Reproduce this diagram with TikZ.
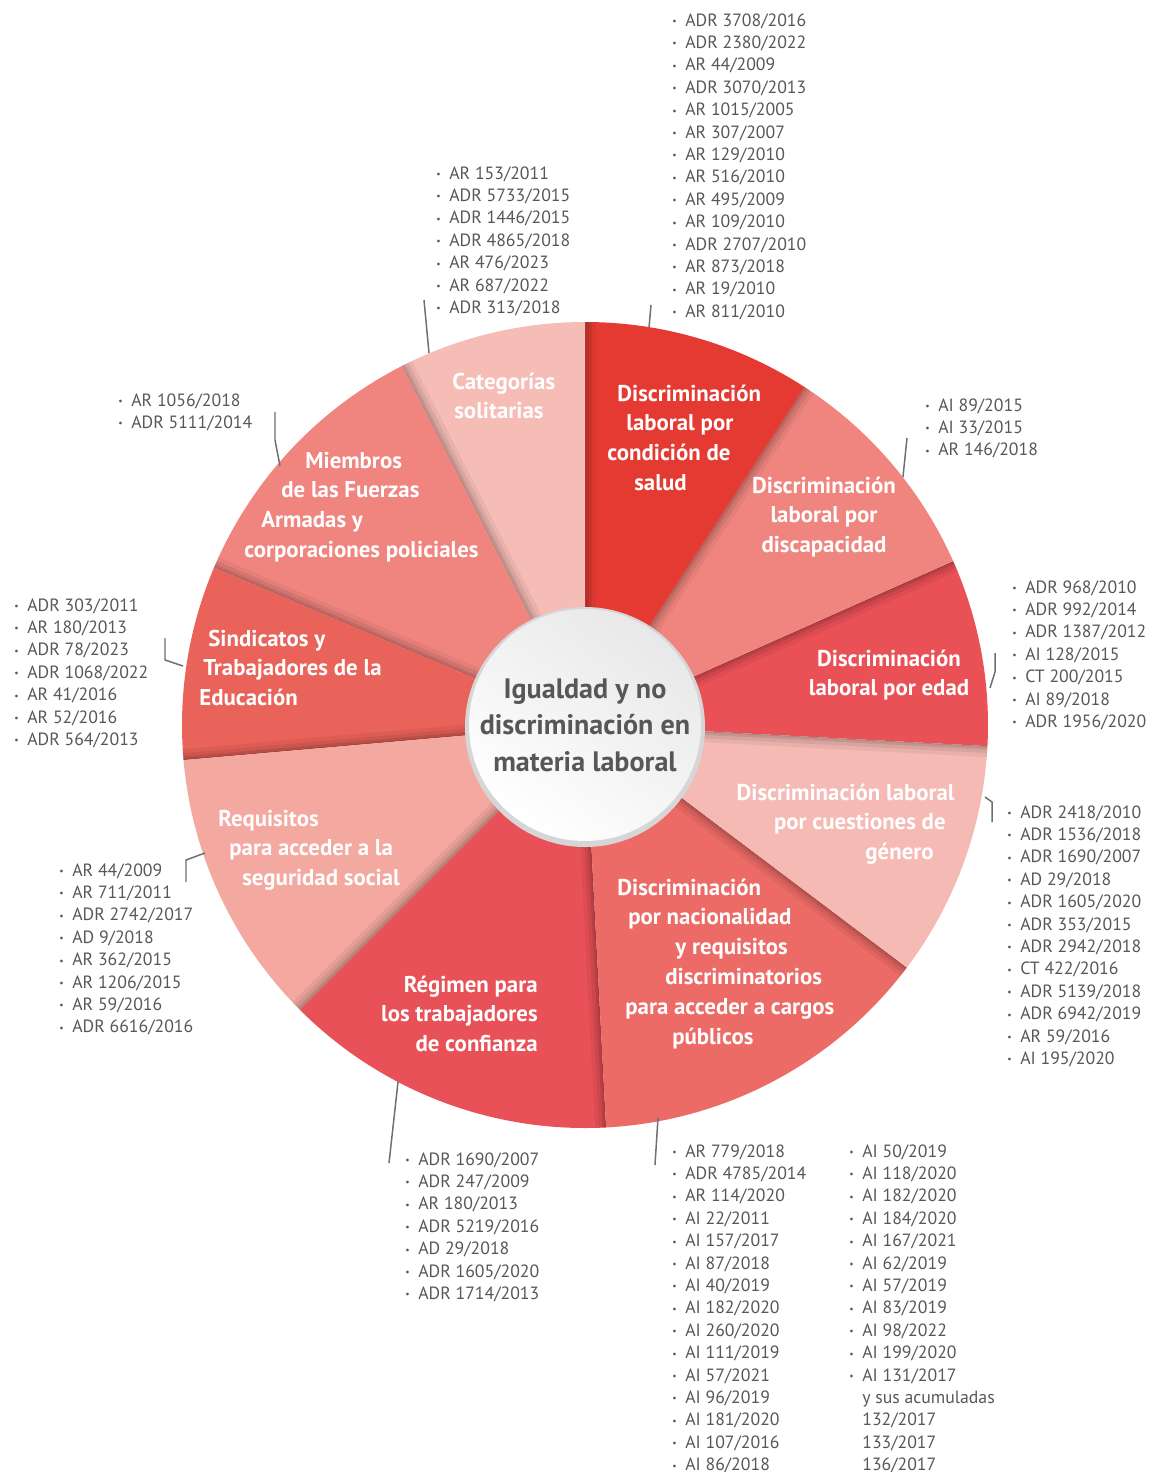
\documentclass[tikz,border=0pt]{standalone}
\usepackage{fontspec}
\setmainfont{PT Sans}

\definecolor{cSalud}{HTML}{E53A32}
\definecolor{cDiscap}{HTML}{F0857F}
\definecolor{cEdad}{HTML}{E95157}
\definecolor{cGenero}{HTML}{F6BAB4}
\definecolor{cNacion}{HTML}{EC6B67}
\definecolor{cRegimen}{HTML}{E85157}
\definecolor{cRequis}{HTML}{F3A8A0}
\definecolor{cSindic}{HTML}{E9635A}
\definecolor{cFuerzas}{HTML}{F0857F}
\definecolor{cSolit}{HTML}{F6BCB6}
\definecolor{listgray}{HTML}{575756}
\definecolor{leadgray}{HTML}{6F6F6E}
\definecolor{hubgray}{HTML}{575756}

\newcommand{\bul}{\makebox[0.26cm][l]{\raisebox{0.9pt}{\fontsize{5.5}{6}\selectfont\textbullet}}}
% multi-line texts whose baseline is the first line
\newcommand{\rowsL}[1]{\begin{tabular}[t]{@{}l@{}}#1\end{tabular}}
\newcommand{\rowsC}[1]{\begin{tabular}[t]{@{}c@{}}#1\end{tabular}}
\newcommand{\rowsR}[1]{\begin{tabular}[t]{@{}r@{}}#1\end{tabular}}

\begin{document}
\begin{tikzpicture}[x=0.02cm, y=0.02cm,
  wedgelabel/.style={text=white, font=\bfseries\fontsize{13}{17}\selectfont, inner sep=0pt},
  caselist/.style={text=listgray, font=\fontsize{10.1}{12.75}\selectfont, inner sep=0pt, anchor=base west},
  leader/.style={draw=leadgray, line width=0.85pt}]

  \pgfmathsetmacro{\cx}{585}
  \pgfmathsetmacro{\cy}{-725}
  \pgfmathsetmacro{\rOut}{403}

  \useasboundingbox (0,0) rectangle (1149,-1472);

  % wedges, each with a shadow along its leading edge
  \foreach \a/\b/\c in {-3/24/cEdad, 24/57/cDiscap, 57/90/cSalud, 90/117/cSolit, 117/157/cFuerzas,
                        157/185/cSindic, 185/225/cRequis, 225/273/cRegimen, 273/323/cNacion, 323/357/cGenero} {
    \begin{scope}
      \clip (\cx,\cy) -- ++(\a:\rOut) arc[start angle=\a, end angle=\b, radius=\rOut] -- cycle;
      \fill[\c] (\cx,\cy) circle[radius=\rOut+5];
      \foreach \w/\o in {22/0.05, 14/0.07, 7/0.09, 2/0.12}
        \draw[black, opacity=\o, line width=\w*0.02cm] (\cx,\cy) -- ++(\b:\rOut+20);
    \end{scope}
  }

  % hub
  \fill[black!16] (\cx,\cy-2) circle[radius=120];
  \shade[top color=black!9, bottom color=white, shading angle=-35] (\cx,\cy) circle[radius=116];
  \node[font=\bfseries\fontsize{16}{21}\selectfont, text=hubgray, anchor=base, inner sep=0pt] (tema) at (585,-698)
    {\rowsC{Igualdad y no\\discriminación en\\materia laboral}};

  % wedge labels
  \node[wedgelabel, anchor=base west] (lblSolit) at (452,-389) {\rowsL{Categorías\\\hspace*{0.04cm}solitarias}};
  \node[wedgelabel, anchor=base west] (lblSalud) at (607,-401)
    {\rowsL{\hspace*{0.2cm}Discriminación\\\hspace*{0.38cm}laboral por\\condición de\\\hspace*{0.54cm}salud}};
  \node[wedgelabel, anchor=base] (lblDiscap) at (824,-493) {\rowsC{Discriminación\\laboral por\\discapacidad}};
  \node[wedgelabel, anchor=base] (lblEdad) at (889,-666) {\rowsC{Discriminación\\laboral por edad}};
  \node[wedgelabel, anchor=base east] (lblGenero) at (955,-800)
    {\rowsR{Discriminación laboral\\por cuestiones de\hspace*{0.18cm}\\género\hspace*{0.42cm}}};
  \node[wedgelabel, anchor=base west] (lblNacion) at (617,-895)
    {\rowsL{Discriminación\\\hspace*{0.22cm}por nacionalidad\\\hspace*{1.16cm}y requisitos\\\hspace*{0.96cm}discriminatorios\\\hspace*{0.16cm}para acceder a cargos\\\hspace*{1.1cm}públicos}};
  \node[wedgelabel, anchor=base east] (lblRegimen) at (538,-992) {\rowsR{Régimen para\\los trabajadores\\de confianza}};
  \node[wedgelabel, anchor=base west] (lblRequis) at (218,-826)
    {\rowsL{Requisitos\\\hspace*{0.22cm}para acceder a la\\\hspace*{0.48cm}seguridad social}};
  \node[wedgelabel, anchor=base west] (lblSindic) at (199,-646)
    {\rowsL{\hspace*{0.18cm}Sindicatos y\\\hspace*{0.08cm}Trabajadores de la\\Educación}};
  \node[wedgelabel, anchor=base west] (lblFuerzas) at (244,-468)
    {\rowsL{\hspace*{1.22cm}Miembros\\\hspace*{0.74cm}de las Fuerzas\\\hspace*{0.34cm}Armadas y\\corporaciones policiales}};

  % case lists
  \node[caselist] (listSalud) at (672,-26) {\rowsL{\bul ADR 3708/2016\\\bul ADR 2380/2022\\\bul AR 44/2009\\\bul ADR 3070/2013\\\bul AR 1015/2005\\\bul AR 307/2007\\\bul AR 129/2010\\\bul AR 516/2010\\\bul AR 495/2009\\\bul AR 109/2010\\\bul ADR 2707/2010\\\bul AR 873/2018\\\bul AR 19/2010\\\bul AR 811/2010}};
  \node[caselist] (listSolit) at (436,-179) {\rowsL{\bul AR 153/2011\\\bul ADR 5733/2015\\\bul ADR 1446/2015\\\bul ADR 4865/2018\\\bul AR 476/2023\\\bul AR 687/2022\\\bul ADR 313/2018}};
  \node[caselist] (listDiscap) at (925,-411) {\rowsL{\bul AI 89/2015\\\bul AI 33/2015\\\bul AR 146/2018}};
  \node[caselist] (listEdad) at (1012,-593) {\rowsL{\bul ADR 968/2010\\\bul ADR 992/2014\\\bul ADR 1387/2012\\\bul AI 128/2015\\\bul CT 200/2015\\\bul AI 89/2018\\\bul ADR 1956/2020}};
  \node[caselist] (listGenero) at (1007,-818) {\rowsL{\bul ADR 2418/2010\\\bul ADR 1536/2018\\\bul ADR 1690/2007\\\bul AD 29/2018\\\bul ADR 1605/2020\\\bul ADR 353/2015\\\bul ADR 2942/2018\\\bul CT 422/2016\\\bul ADR 5139/2018\\\bul ADR 6942/2019\\\bul AR 59/2016\\\bul AI 195/2020}};
  \node[caselist] (listNacionA) at (672,-1157) {\rowsL{\bul AR 779/2018\\\bul ADR 4785/2014\\\bul AR 114/2020\\\bul AI 22/2011\\\bul AI 157/2017\\\bul AI 87/2018\\\bul AI 40/2019\\\bul AI 182/2020\\\bul AI 260/2020\\\bul AI 111/2019\\\bul AI 57/2021\\\bul AI 96/2019\\\bul AI 181/2020\\\bul AI 107/2016\\\bul AI 86/2018}};
  \node[caselist] (listNacionB) at (849,-1157) {\rowsL{\bul AI 50/2019\\\bul AI 118/2020\\\bul AI 182/2020\\\bul AI 184/2020\\\bul AI 167/2021\\\bul AI 62/2019\\\bul AI 57/2019\\\bul AI 83/2019\\\bul AI 98/2022\\\bul AI 199/2020\\\bul AI 131/2017\\\hspace*{0.26cm}y sus acumuladas\\\hspace*{0.26cm}132/2017\\\hspace*{0.26cm}133/2017\\\hspace*{0.26cm}136/2017}};
  \node[caselist] (listRegimen) at (405,-1165) {\rowsL{\bul ADR 1690/2007\\\bul ADR 247/2009\\\bul AR 180/2013\\\bul ADR 5219/2016\\\bul AD 29/2018\\\bul ADR 1605/2020\\\bul ADR 1714/2013}};
  \node[caselist] (listRequis) at (59,-876) {\rowsL{\bul AR 44/2009\\\bul AR 711/2011\\\bul ADR 2742/2017\\\bul AD 9/2018\\\bul AR 362/2015\\\bul AR 1206/2015\\\bul AR 59/2016\\\bul ADR 6616/2016}};
  \node[caselist] (listSindic) at (14,-611) {\rowsL{\bul ADR 303/2011\\\bul AR 180/2013\\\bul ADR 78/2023\\\bul ADR 1068/2022\\\bul AR 41/2016\\\bul AR 52/2016\\\bul ADR 564/2013}};
  \node[caselist] (listFuerzas) at (118,-406) {\rowsL{\bul AR 1056/2018\\\bul ADR 5111/2014}};

  % leader lines from each list to its wedge
  \coordinate (ldSolit1) at (424,-300);   \coordinate (ldSolit2) at (429,-353);
  \coordinate (ldSalud1) at (651,-305);   \coordinate (ldSalud2) at (649,-328);
  \coordinate (ldDiscap1) at (907,-438);  \coordinate (ldDiscap2) at (903,-477);
  \coordinate (ldEdad1) at (995,-653);    \coordinate (ldEdad2) at (995,-672);    \coordinate (ldEdad3) at (990,-688);
  \coordinate (ldGenero1) at (985,-797);  \coordinate (ldGenero2) at (992,-802);  \coordinate (ldGenero3) at (992,-822);
  \coordinate (ldNacion1) at (658,-1118); \coordinate (ldNacion2) at (655,-1165);
  \coordinate (ldRegimen1) at (398,-1082); \coordinate (ldRegimen2) at (389,-1163);
  \coordinate (ldRequis1) at (205,-853);  \coordinate (ldRequis2) at (186,-860);  \coordinate (ldRequis3) at (186,-882);
  \coordinate (ldSindic1) at (165,-638);  \coordinate (ldSindic2) at (165,-660);  \coordinate (ldSindic3) at (183,-666);
  \coordinate (ldFuerzas1) at (275,-412); \coordinate (ldFuerzas2) at (275,-440); \coordinate (ldFuerzas3) at (280,-466);

  \draw[leader] (ldSolit1) -- (ldSolit2);
  \draw[leader] (ldSalud1) -- (ldSalud2);
  \draw[leader] (ldDiscap1) -- (ldDiscap2);
  \draw[leader] (ldEdad1) -- (ldEdad2) -- (ldEdad3);
  \draw[leader] (ldGenero1) -- (ldGenero2) -- (ldGenero3);
  \draw[leader] (ldNacion1) -- (ldNacion2);
  \draw[leader] (ldRegimen1) -- (ldRegimen2);
  \draw[leader] (ldRequis1) -- (ldRequis2) -- (ldRequis3);
  \draw[leader] (ldSindic1) -- (ldSindic2) -- (ldSindic3);
  \draw[leader] (ldFuerzas1) -- (ldFuerzas2) -- (ldFuerzas3);
\end{tikzpicture}
\end{document}
